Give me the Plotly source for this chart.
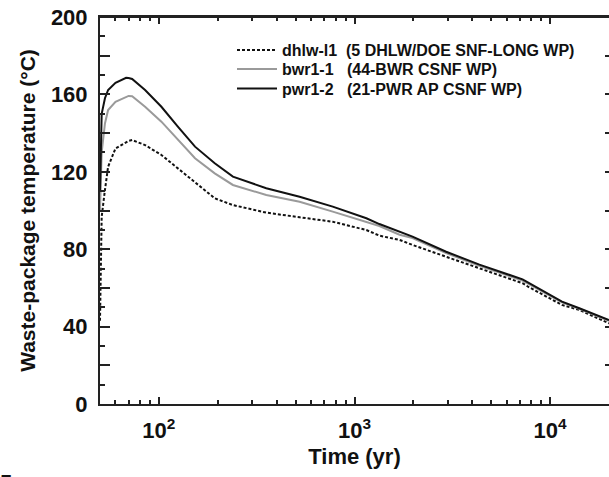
import plotly.graph_objects as go
import math

# ---------------- data ----------------
time_yr = [50, 51, 53, 55, 60, 68, 70, 73, 85, 103, 125, 153, 193, 239, 354, 524,
           774, 1150, 1340, 1700, 1980, 2940, 4350, 7230, 7820, 11500, 14100, 20000]

dhlw_l1 = [43, 96.8, 110.6, 122.6, 132.1, 135.5, 136.0, 136.4, 133.8, 128.7, 121.8, 114.5,
           106.3, 102.8, 98.9, 96.5, 94.2, 89.9, 87.0, 84.8, 82.2, 76.1, 70.0, 62.4,
           60.3, 51.2, 48.6, 41.7]

bwr1_1 = [100, 130, 145, 151.9, 156.2, 158.9, 159.2, 159.0, 153.6, 145.9, 136.4, 127.0,
          119.2, 113.2, 108.0, 104.5, 99.4, 94.2, 92.0, 87.5, 85.8, 78.0, 71.4, 63.8,
          61.9, 52.5, 49.2, 43.0]

pwr1_2 = [110, 150, 158, 162.3, 166.0, 168.6, 168.5, 168.0, 162.3, 153.6, 143.3, 133.0,
          124.4, 117.5, 111.5, 107.1, 102.0, 96.0, 93.0, 89.0, 86.5, 78.7, 72.0, 64.4,
          62.4, 52.9, 49.5, 43.4]

series_names = [
    "dhlw-l1\u00a0\u00a0(5 DHLW/DOE SNF-LONG WP)",
    "bwr1-1\u00a0\u00a0\u00a0(44-BWR CSNF WP)",
    "pwr1-2\u00a0\u00a0\u00a0(21-PWR AP CSNF WP)",
]

x_tick_vals = [100, 1000, 10000]
x_tick_text = ["10<sup>2</sup>", "10<sup>3</sup>", "10<sup>4</sup>"]
x_minor_vals = [60, 70, 80, 90, 200, 300, 400, 500, 600, 700, 800, 900,
                2000, 3000, 4000, 5000, 6000, 7000, 8000, 9000]
y_label_vals = [0, 40, 80, 120, 160, 200]
y_label_text = ["0", "40", "80", "120", "160", "200"]
y_mid_vals = [20, 60, 100, 140, 180]
y_all_vals = [0, 20, 40, 60, 80, 100, 120, 140, 160, 180, 200]

x_title = "Time (yr)"
y_title = "Waste-package temperature (°C)"

# ---------------- figure ----------------
FONT = "Liberation Sans, Arial, sans-serif"
AX = "#222222"

fig = go.Figure()
fig.add_trace(go.Scatter(x=time_yr, y=dhlw_l1, mode="lines", name=series_names[0],
                         line=dict(color="#111111", width=2, dash="3px,2px"),
                         legend="legend"))
fig.add_trace(go.Scatter(x=time_yr, y=bwr1_1, mode="lines", name=series_names[1],
                         line=dict(color="#9a9a9a", width=2), legend="legend2"))
fig.add_trace(go.Scatter(x=time_yr, y=pwr1_2, mode="lines", name=series_names[2],
                         line=dict(color="#111111", width=2), legend="legend3"))
# empty helper traces so the extra tick-only axes are drawn
for ax in ("y2", "y3"):
    fig.add_trace(go.Scatter(x=[None], y=[None], yaxis=ax, showlegend=False,
                             hoverinfo="skip", mode="lines"))

W, H = 609, 477
# plot area in window pixels: x 100..609, y 17..404
ML, MR, MT, MB = 100, 0, 17, 73
PW, PH = W - ML - MR, H - MT - MB


def px_to_paper_x(px):
    return (px - ML) / PW


def py_to_paper_y(py):
    return (H - MB - py) / PH


legend_common = dict(
    xanchor="left", yanchor="middle", bgcolor="rgba(0,0,0,0)", borderwidth=0,
    font=dict(family=FONT, size=16, color="#111111", weight="bold"),
    itemwidth=40, tracegroupgap=0,
)
leg_x = px_to_paper_x(232)

fig.update_layout(
    width=W, height=H, autosize=False,
    margin=dict(l=ML, r=MR, t=MT, b=MB, pad=0),
    paper_bgcolor="white", plot_bgcolor="white",
    showlegend=True,
    legend=dict(x=leg_x, y=py_to_paper_y(50), **legend_common),
    legend2=dict(x=leg_x, y=py_to_paper_y(69), **legend_common),
    legend3=dict(x=leg_x, y=py_to_paper_y(88.5), **legend_common),
    xaxis=dict(
        type="log", range=[math.log10(50), math.log10(20000)], automargin=False,
        tickmode="array", tickvals=x_tick_vals, ticktext=x_tick_text,
        ticks="inside", ticklen=7, tickwidth=1.5, tickcolor=AX,
        showline=True, linecolor=AX, linewidth=2, mirror="ticks",
        showgrid=False, zeroline=False,
        tickfont=dict(family=FONT, size=22, color="#111", weight="bold"),
        ticklabelstandoff=6,
        minor=dict(tickmode="array", tickvals=x_minor_vals, ticks="inside",
                   ticklen=4, tickwidth=1.5, tickcolor=AX, showgrid=False),
        title=dict(text=x_title, standoff=6,
                   font=dict(family=FONT, size=22, color="#111", weight="bold")),
    ),
    yaxis=dict(
        range=[0, 200], automargin=False,
        tickmode="array", tickvals=y_label_vals, ticktext=y_label_text,
        ticks="inside", ticklen=10, tickwidth=1.5, tickcolor=AX,
        showline=True, linecolor=AX, linewidth=2, mirror=False,
        showgrid=False, zeroline=False,
        tickfont=dict(family=FONT, size=22, color="#111", weight="bold"),
        ticklabelstandoff=6,
        minor=dict(dtick=10, ticks="inside", ticklen=5, tickwidth=1.5,
                   tickcolor=AX, showgrid=False),
        title=dict(text=y_title, standoff=10,
                   font=dict(family=FONT, size=21, color="#111", weight="bold")),
    ),
    yaxis2=dict(
        overlaying="y", side="right", anchor="x", range=[0, 200], tickmode="array",
        tickvals=y_all_vals, ticks="inside", ticklen=4, tickwidth=1.5,
        tickcolor=AX, showticklabels=False, showline=False, showgrid=False,
        zeroline=False, automargin=False,
    ),
    yaxis3=dict(
        overlaying="y", side="left", anchor="x", range=[0, 200], tickmode="array",
        tickvals=y_mid_vals, ticks="inside", ticklen=10, tickwidth=1.5,
        tickcolor=AX, showticklabels=False, showline=False, showgrid=False,
        zeroline=False, automargin=False,
    ),
    shapes=[dict(type="line", xref="paper", yref="paper", x0=0, x1=1, y0=1, y1=1,
                 line=dict(color=AX, width=2), layer="above")],
)

# clipped figure label at the bottom-left corner
fig.add_annotation(text="5", xref="paper", yref="paper",
                   x=px_to_paper_x(-2), y=py_to_paper_y(468),
                   xanchor="left", yanchor="top", showarrow=False,
                   font=dict(family=FONT, size=22, color="#111", weight="bold"))

# remove the page's default 8px body margin so the figure sits at the window corner
fig.write_html("out.html",
               config={"displayModeBar": False},
               post_script="document.body.style.margin='0px';document.body.style.overflow='hidden';")
